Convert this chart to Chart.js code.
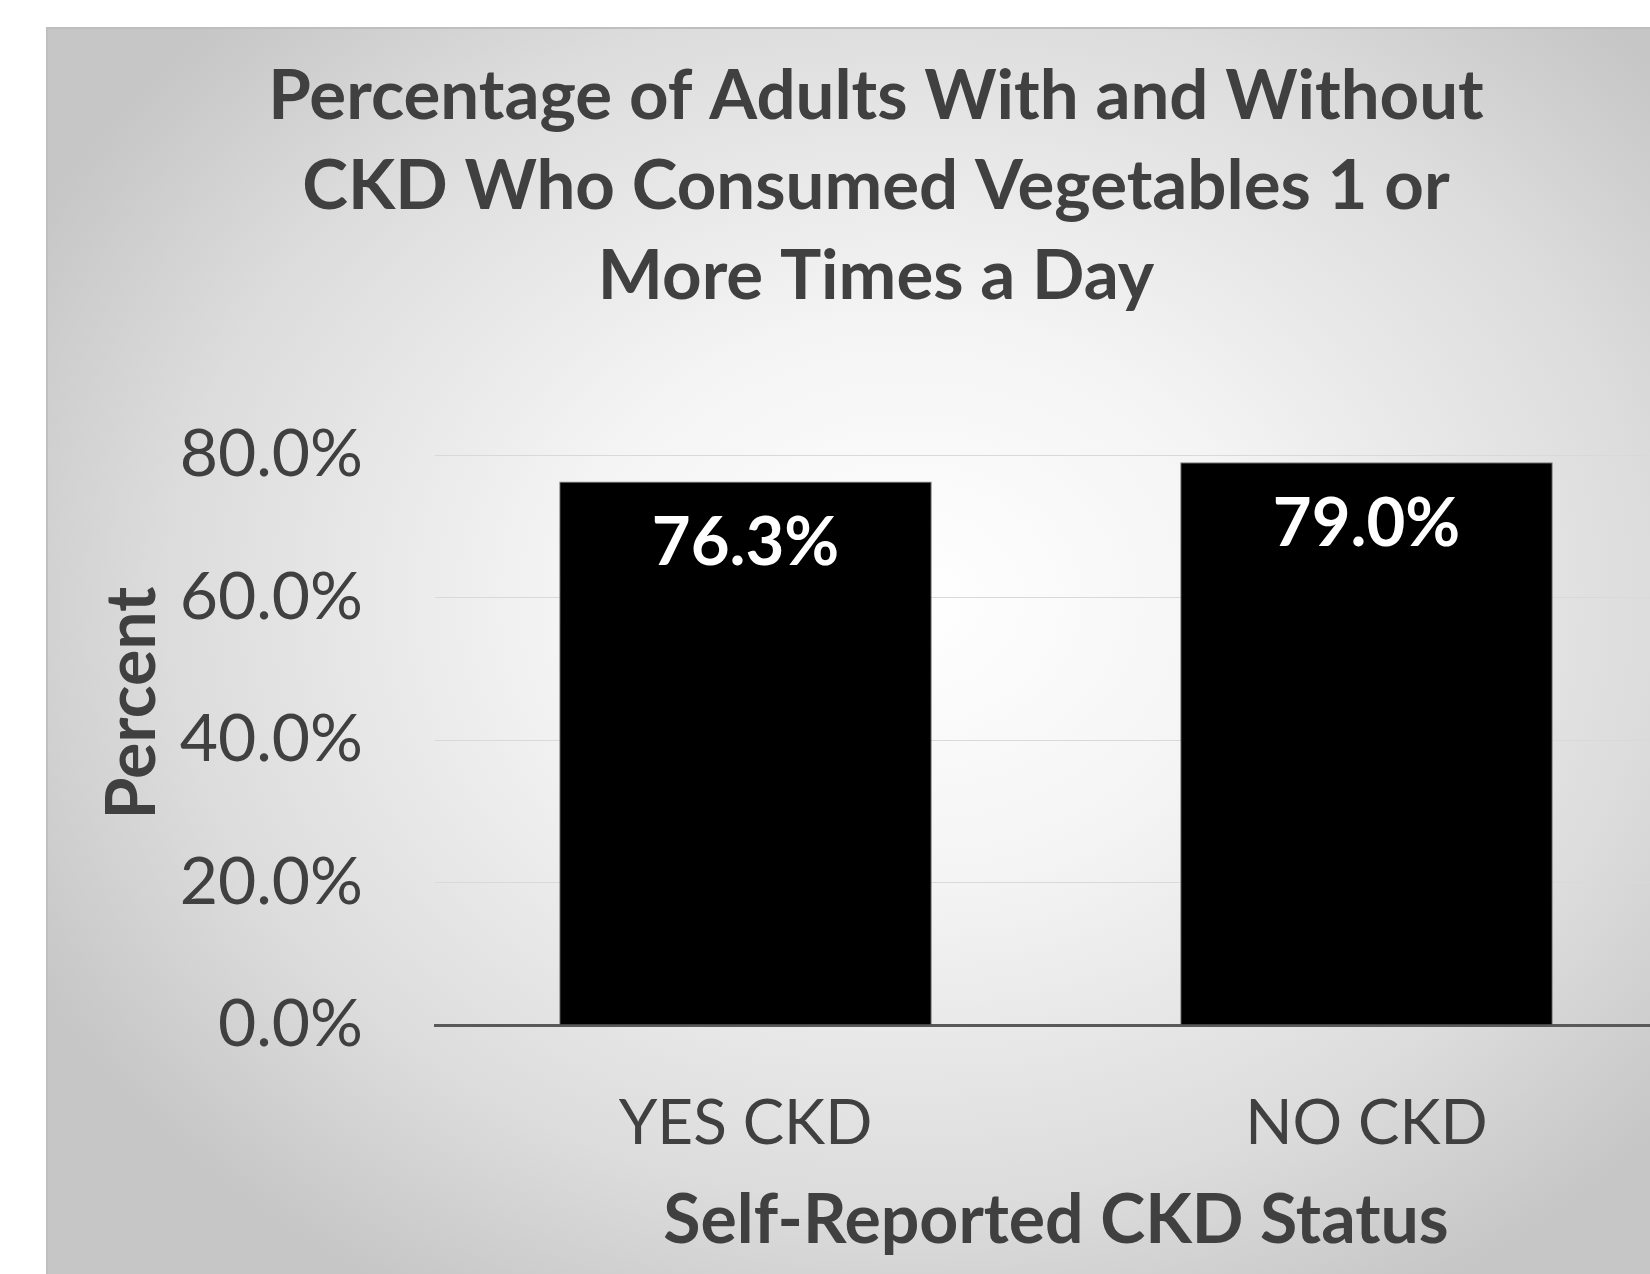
<!DOCTYPE html>
<html>
<head>
<meta charset="utf-8">
<script src="https://cdn.jsdelivr.net/npm/chart.js@4.4.1/dist/chart.umd.min.js"></script>
<style>
  html, body { margin: 0; padding: 0; background: #ffffff; overflow: hidden; }
  #frame {
    position: absolute;
    left: 46px;
    top: 27px;
    width: 1658px;
    height: 1300px;
    border-top: 2px solid #bfbfbf;
    border-left: 2px solid #bfbfbf;
    background: radial-gradient(ellipse 60% 62% at 52% 44%, #ffffff 0%, #f4f4f4 35%, #dcdcdc 75%, #c6c6c6 100%);
  }
  canvas { display: block; }
</style>
</head>
<body>
<div id="frame">
  <canvas id="chart-veg" width="1658" height="1300"></canvas>
</div>
<script>
// Chart data
const categories = ['YES CKD', 'NO CKD'];
const percentValues = [76.3, 79.0];
const yTicks = [0, 20, 40, 60, 80];
const titleLines = [
  'Percentage of Adults With and Without',
  'CKD Who Consumed Vegetables 1 or',
  'More Times a Day'
];
const xAxisTitle = 'Self-Reported CKD Status';
const yAxisTitle = 'Percent';

const FONT = 'Lato, "Open Sans", sans-serif';
const TEXT_GRAY = '#404040';

/**
 * Draw value labels inside the top of each bar
 */
const barValueLabels = {
  id: 'barValueLabels',
  afterDatasetsDraw(chart) {
    const ctx = chart.ctx;
    const meta = chart.getDatasetMeta(0);
    ctx.save();
    ctx.fillStyle = '#ffffff';
    ctx.font = `bold 67px ${FONT}`;
    ctx.textAlign = 'center';
    ctx.textBaseline = 'middle';
    meta.data.forEach((bar, i) => {
      ctx.fillText(percentValues[i].toFixed(1) + '%', bar.x, bar.y + 62);
    });
    ctx.restore();
  }
};

/**
 * Rotated y axis title, sitting a little above the plot's middle like the original
 */
const yTitlePlugin = {
  id: 'yTitlePlugin',
  afterDraw(chart) {
    const ctx = chart.ctx;
    const area = chart.chartArea;
    ctx.save();
    ctx.translate(85, (area.top + area.bottom) / 2 - 37);
    ctx.rotate(-Math.PI / 2);
    ctx.fillStyle = TEXT_GRAY;
    ctx.font = `bold 68px ${FONT}`;
    ctx.textAlign = 'center';
    ctx.textBaseline = 'middle';
    ctx.fillText(yAxisTitle, 0, 0);
    ctx.restore();
  }
};

const ctx = document.getElementById('chart-veg').getContext('2d');

new Chart(ctx, {
  type: 'bar',
  data: {
    labels: categories,
    datasets: [{
      label: 'Percent',
      data: percentValues,
      backgroundColor: '#000000',
      borderColor: '#7f7f7f',
      borderWidth: 1,
      barPercentage: 0.6,
      categoryPercentage: 1.0
    }]
  },
  options: {
    responsive: false,
    animation: false,
    layout: {
      padding: { left: 27, right: 29, top: 0, bottom: 67 }
    },
    plugins: {
      legend: { display: false },
      tooltip: { enabled: false },
      title: {
        display: true,
        text: titleLines,
        color: TEXT_GRAY,
        font: { family: FONT, size: 69, weight: 'bold', lineHeight: 1.3 },
        padding: { top: 23, bottom: 134 }
      }
    },
    scales: {
      x: {
        grid: { display: false, drawTicks: false },
        border: { display: true, color: '#595959', width: 3 },
        ticks: {
          color: TEXT_GRAY,
          font: { family: FONT, size: 62 },
          padding: 62
        },
        title: {
          display: true,
          text: xAxisTitle,
          color: TEXT_GRAY,
          font: { family: FONT, size: 68, weight: 'bold' },
          padding: { top: 18, bottom: 0 }
        },
        afterFit: axis => { axis.height = 237; }
      },
      y: {
        min: 0,
        max: 80,
        afterBuildTicks: axis => {
          axis.ticks = yTicks.map(v => ({ value: v }));
        },
        grid: {
          color: '#d9d9d9',
          lineWidth: 1,
          drawTicks: false
        },
        border: { display: false },
        ticks: {
          color: TEXT_GRAY,
          font: { family: FONT, size: 66 },
          padding: 72,
          callback: value => value.toFixed(1) + '%'
        },
        afterFit: axis => { axis.width = 360; }
      }
    }
  },
  plugins: [barValueLabels, yTitlePlugin]
});
</script>
</body>
</html>
